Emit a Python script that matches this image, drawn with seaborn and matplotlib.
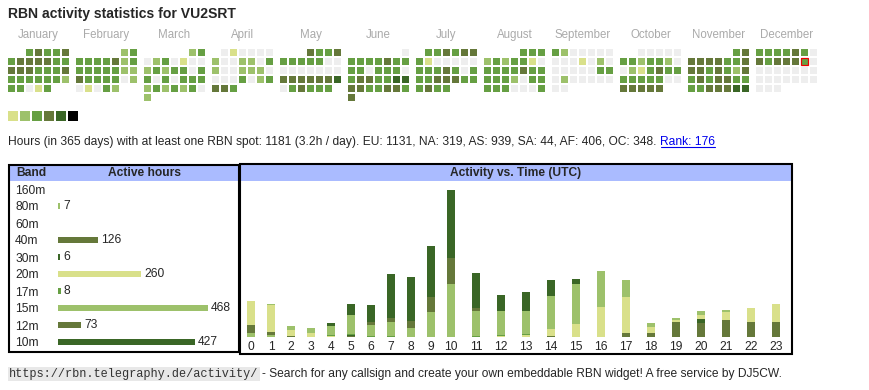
import datetime as dt
import numpy as np
import pandas as pd
import matplotlib
matplotlib.use("Agg")
import matplotlib.pyplot as plt
import seaborn as sns
from matplotlib.colors import ListedColormap
from matplotlib.patches import Rectangle
from matplotlib.lines import Line2D

# ---------------- data ----------------
YEAR = 2025
month_names = ["January", "February", "March", "April", "May", "June", "July",
               "August", "September", "October", "November", "December"]
# activity level per day (0 = none, 1..5 = increasing activity)
month_levels = [
    "34334" "3444433" "4443334" "3333332" "33013",
    "23" "3333423" "3333322" "4333302" "01032",
    "23" "0230100" "2323303" "3030333" "2323230" "2",
    "010000" "2002203" "2002220" "0003023" "443",
    "4334" "3333300" "0000000" "4444445" "034333",
    "0" "3333433" "3303330" "3443355" "4433443" "4",
    "334344" "3100000" "3334303" "3344433" "3433",
    "333" "2323310" "3333433" "3332033" "3330003",
    "3200000" "0001020" "0000033" "0200000" "00",
    "00000" "3323320" "0213433" "3333300" "44444",
    "34" "4444334" "4434324" "3434433" "3344455",
    "3333430" "4344430" "0000000" "0000000" "000",
]
today_month, today_day = 12, 13

level_colors = ["#eeeeee", "#d9e08a", "#9dc16b", "#669f43", "#65783a", "#3a6626"]
legend_colors = ["#d9e08a", "#9dc16b", "#669f43", "#65783a", "#3a6626", "#000000"]

bands = ["160m", "80m", "60m", "40m", "30m", "20m", "17m", "15m", "12m", "10m"]
band_hours = [0, 7, 0, 126, 6, 260, 8, 468, 73, 427]
band_colors = ["#3a6626", "#9dc16b", "#669f43", "#65783a", "#3a6626",
               "#d9e08a", "#669f43", "#9dc16b", "#65783a", "#3a6626"]

hours = list(range(24))
hourly = {
    "160m": [0] * 24,
    "80m":  [5, 2, 0, 0, 0, 0, 0, 0, 0, 0, 0, 0, 0, 0, 0, 0, 0, 0, 0, 0, 0, 0, 0, 0],
    "60m":  [0] * 24,
    "40m":  [10, 5, 1, 0, 0, 1, 0, 0, 0, 0, 0, 0, 0, 0, 1, 0, 0, 5, 5, 19, 18, 22, 20, 19],
    "30m":  [0, 0, 0, 0, 0, 1, 0, 0, 0, 0, 0, 0, 0, 0, 0, 0, 0, 0, 0, 0, 5, 0, 0, 0],
    "20m":  [31, 34, 8, 5, 1, 0, 0, 0, 0, 0, 0, 0, 1, 3, 9, 17, 39, 46, 8, 3, 5, 10, 17, 23],
    "17m":  [0, 0, 0, 0, 1, 2, 1, 1, 0, 0, 0, 1, 1, 1, 0, 0, 0, 0, 0, 0, 0, 0, 0, 0],
    "15m":  [0, 1, 5, 6, 12, 24, 15, 18, 12, 32, 69, 33, 31, 30, 43, 52, 46, 23, 5, 3, 5, 3, 0, 0],
    "12m":  [0, 0, 0, 0, 0, 0, 3, 5, 9, 19, 33, 4, 0, 0, 0, 0, 0, 0, 0, 0, 0, 0, 0, 0],
    "10m":  [0, 0, 0, 1, 4, 15, 22, 57, 56, 67, 88, 45, 21, 24, 21, 6, 0, 0, 0, 0, 0, 0, 0, 0],
}

title = "RBN activity statistics for VU2SRT"
stats_text = ("Hours (in 365 days) with at least one RBN spot: 1181 (3.2h / day). "
              "EU: 1131, NA: 319, AS: 939, SA: 44, AF: 406, OC: 348.")
rank_text = "Rank: 176"
url_text = "https://rbn.telegraphy.de/activity/"
footer_text = "- Search for any callsign and create your own embeddable RBN widget! A free service by DJ5CW."

# ---------------- layout helpers ----------------
W, H = 870, 390
sns.set_theme(style="white")
plt.rcParams["font.family"] = ["Liberation Sans", "DejaVu Sans"]
fig = plt.figure(figsize=(W / 100, H / 100), dpi=100)
fig.patch.set_facecolor("white")


def fx(x):
    return x / W


def fy(y):
    return 1 - y / H


def add_ax(x0, y0, w, h):
    return fig.add_axes([x0 / W, 1 - (y0 + h) / H, w / W, h / H])


def px_rect(x0, y0, w, h, **kw):
    r = Rectangle((fx(x0), fy(y0 + h)), w / W, h / H, transform=fig.transFigure, **kw)
    fig.add_artist(r)
    return r


FS = 8.65
PX = 0.72  # one pixel in points

# ---------------- title ----------------
fig.text(fx(8), fy(14), title, fontsize=10.1, fontweight="bold", va="center", ha="left")

# ---------------- calendar ----------------
cmap = ListedColormap(level_colors)
for m in range(12):
    lv = month_levels[m]
    first = dt.date(YEAR, m + 1, 1).weekday()
    grid = np.full((6, 7), np.nan)
    for d, ch in enumerate(lv):
        idx = first + d
        grid[idx // 7, idx % 7] = int(ch)
    x0 = 7 + 68 * m
    ax = add_ax(x0, 48, 63, 54)
    sns.heatmap(grid, ax=ax, cmap=cmap, vmin=-0.5, vmax=5.5, cbar=False,
                linewidths=2 * PX, linecolor="white", mask=np.isnan(grid),
                xticklabels=False, yticklabels=False)
    ax.set_xlim(0, 7)
    ax.set_ylim(6, 0)
    ax.axis("off")
    fig.text(fx(x0 + 31.5), fy(35), month_names[m], fontsize=8.3, color="#aaaaaa",
             ha="center", va="center")
    if m + 1 == today_month:
        idx = first + today_day - 1
        r, c = idx // 7, idx % 7
        ax.add_patch(Rectangle((c + 0.6 / 9, r + 0.6 / 9), 7.8 / 9, 7.8 / 9, fill=False,
                               edgecolor="#ee0000", linewidth=1.2 * PX, zorder=5,
                               clip_on=False))

# legend swatches
lax = add_ax(7, 110, 72, 12)
sns.heatmap(np.arange(6).reshape(1, 6), ax=lax, cmap=ListedColormap(legend_colors),
            vmin=-0.5, vmax=5.5, cbar=False, linewidths=2 * PX, linecolor="white",
            xticklabels=False, yticklabels=False)
lax.axis("off")

# ---------------- stats line ----------------
t_stats = fig.text(fx(8), fy(142), stats_text, fontsize=FS, va="center", ha="left")
fig.canvas.draw()
rend = fig.canvas.get_renderer()
bb = t_stats.get_window_extent(rend)
rank_x = bb.x1 + 4
t_rank = fig.text(rank_x / W, fy(142), rank_text, fontsize=FS, color="#0000ee",
                  va="center", ha="left")
fig.canvas.draw()
rb = t_rank.get_window_extent(rend)
fig.add_artist(Line2D([rb.x0 / W, rb.x1 / W], [(rb.y0 + 1) / H, (rb.y0 + 1) / H],
                      transform=fig.transFigure, color="#0000ee", linewidth=0.8))

# ---------------- band panel ----------------
px_rect(9, 166, 230, 15, facecolor="#aabbff", edgecolor="none")
px_rect(9, 164.5, 230, 187, facecolor="none", edgecolor="black", linewidth=1.5)
fig.text(fx(16), fy(173), "Band", fontsize=FS, fontweight="bold", va="center", ha="left")
fig.text(fx(145), fy(173), "Active hours", fontsize=FS, fontweight="bold",
         va="center", ha="center")

PX_PER_H_BAND = 0.3205
bax = add_ax(58, 180.5, 172, 170)
band_df = pd.DataFrame({"band": bands, "hours": band_hours})
sns.barplot(data=band_df, x="hours", y="band", hue="band", order=bands,
            palette=dict(zip(bands, band_colors)), orient="h", width=0.41,
            saturation=1, legend=False, ax=bax, linewidth=0)
bax.set_xlim(0, 172 / PX_PER_H_BAND)
bax.set_ylim(9.5, -0.5)
for i, v in enumerate(band_hours):
    if v > 0:
        bax.text(v + 3 / PX_PER_H_BAND, i, str(v), fontsize=FS, va="center", ha="left")
bax.set_yticks(range(len(bands)), labels=bands)
bax.tick_params(axis="y", length=0, pad=30.9, labelsize=FS)
for lab in bax.get_yticklabels():
    lab.set_ha("left")
bax.set_xticks([])
bax.set_xlabel("")
bax.set_ylabel("")
for s in bax.spines.values():
    s.set_visible(False)
bax.patch.set_alpha(0)

# ---------------- hourly panel ----------------
px_rect(240, 165, 552, 16, facecolor="#aabbff", edgecolor="none")
px_rect(240, 164, 552, 190, facecolor="none", edgecolor="black", linewidth=1.5)
fig.text(fx(516), fy(173), "Activity vs. Time (UTC)", fontsize=FS, fontweight="bold",
         va="center", ha="center")

# column widths depend on the label width (1 or 2 digits)
slot = np.array([20 if h < 10 else 25 for h in hours], dtype=float)
centers = 251 + np.concatenate([[0], np.cumsum(slot)[:-1]])
bar_w = 8
edges = sorted(np.concatenate([centers - bar_w / 2, centers + bar_w / 2]).tolist())

rows = []
for b in bands:
    for h, v in zip(hours, hourly[b]):
        rows.append({"band": b, "pos": centers[h], "hours": v})
hdf = pd.DataFrame(rows)

PX_PER_H = 0.775
hax = add_ax(241, 181, 550, 156)
sns.histplot(data=hdf, x="pos", weights="hours", hue="band", hue_order=bands[::-1],
             palette=dict(zip(bands, band_colors)), multiple="stack", bins=edges,
             alpha=1, linewidth=0, legend=False, ax=hax)
hax.set_xlim(241, 791)
hax.set_ylim(0, 156 / PX_PER_H)
hax.set_xticks(centers, labels=[str(h) for h in hours])
hax.tick_params(axis="x", length=0, pad=3.0, labelsize=FS)
hax.set_yticks([])
hax.set_xlabel("")
hax.set_ylabel("")
for s in hax.spines.values():
    s.set_visible(False)
hax.patch.set_alpha(0)

# ---------------- footer ----------------
t_url = fig.text(fx(9), fy(374), url_text, fontsize=8.6, family="Liberation Mono",
                 color="#333333", va="center", ha="left",
                 bbox=dict(facecolor="#e8e8e8", edgecolor="none", pad=1.0))
fig.canvas.draw()
ub = t_url.get_window_extent(rend)
fig.text((ub.x1 + 4) / W, fy(374), footer_text, fontsize=FS, va="center", ha="left")

fig.savefig("out.png", dpi=100, facecolor="white")
